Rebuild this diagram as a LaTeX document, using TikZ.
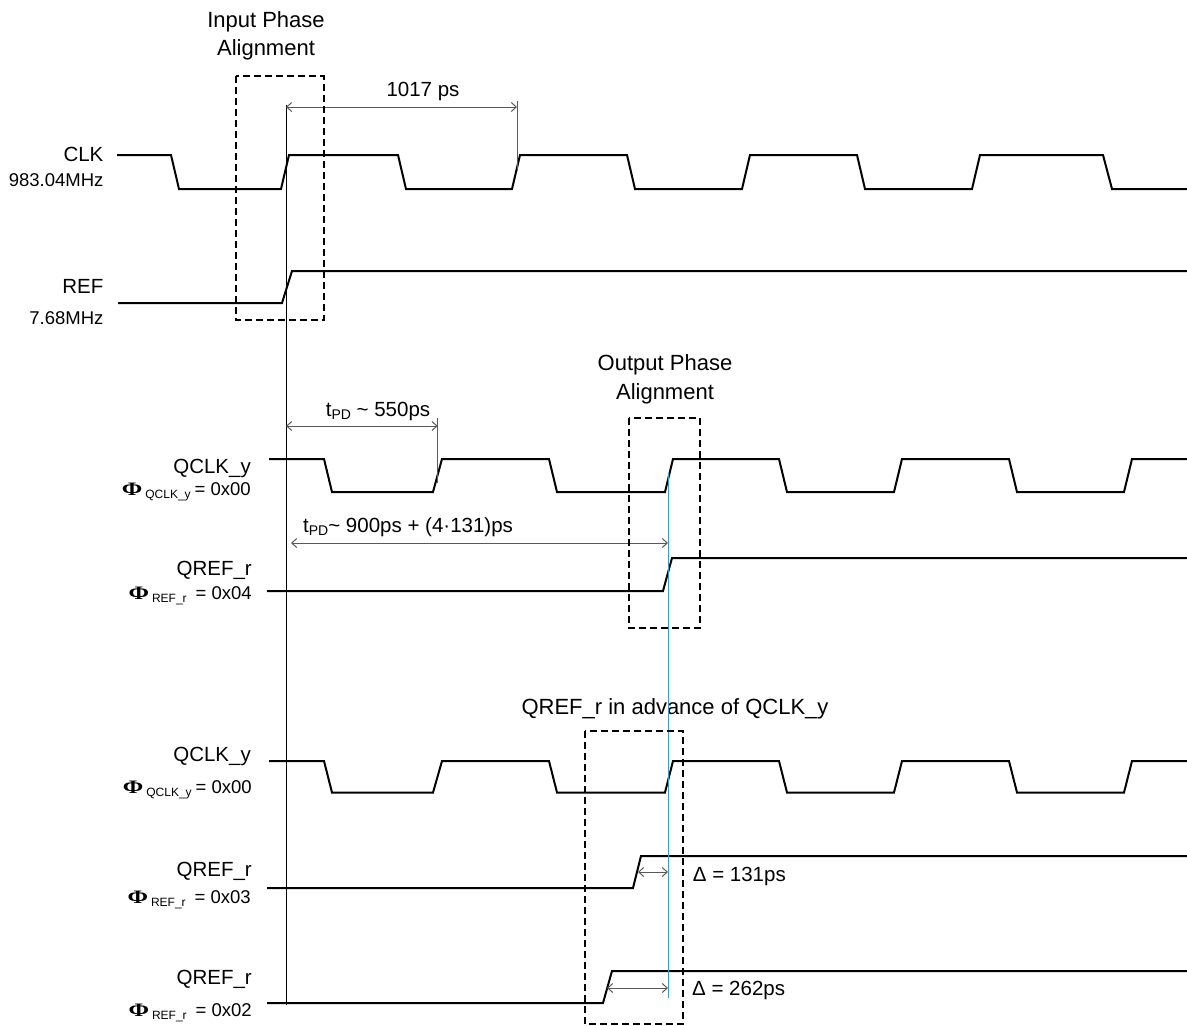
\documentclass[tikz,border=0pt]{standalone}
\usepackage{fontspec}
\usepackage{graphicx}
\setmainfont{Liberation Sans}
\newfontfamily\phifont{Liberation Serif}
\usetikzlibrary{arrows.meta}
\definecolor{cyanline}{RGB}{0,176,240}
\newcommand\sbs[1]{\raisebox{-3pt}{\fontsize{14}{16}\selectfont #1}}
\newcommand\phisym{\scalebox{1.3}[1]{\fontsize{19}{22}\selectfont\phifont\bfseries Φ}}
\newcommand\phisub[1]{\raisebox{-3pt}{\fontsize{12}{14}\selectfont #1}}
\begin{document}
\begin{tikzpicture}[x=1pt,y=-1pt,
  wave/.style={line width=2pt, line join=miter},
  dim/.style={draw=black!65, line width=1pt, {Straight Barb[length=5pt,width=9pt]}-{Straight Barb[length=5pt,width=9pt]}},
  tickline/.style={draw=black!65, line width=1pt},
  dbox/.style={draw, line width=2pt, dash pattern=on 7pt off 4pt},
  lbl/.style={anchor=base east, inner sep=0pt, font=\fontsize{20.5}{24}\selectfont},
  sublbl/.style={anchor=base east, inner sep=0pt, font=\fontsize{18.5}{22}\selectfont},
  hdr/.style={anchor=base, inner sep=0pt, font=\fontsize{22}{28}\selectfont},
  txt/.style={anchor=base, inner sep=0pt, font=\fontsize{20.5}{24}\selectfont},
  txtw/.style={anchor=base west, inner sep=0pt, font=\fontsize{20.5}{24}\selectfont},
]
\useasboundingbox (0,0) rectangle (1187,1026);

% ---- headers
\node[hdr] (hinA) at (266,27.4) {Input Phase};
\node[hdr] (hinB) at (266,55) {Alignment};
\node[hdr] (houtA) at (665,370.8) {Output Phase};
\node[hdr] (houtB) at (665,399) {Alignment};
\node[hdr] (hadv) at (675,714) {QREF\_r in advance of QCLK\_y};

% ---- signal labels
\node[lbl] (lclk) at (103.6,161.4) {CLK};
\node[sublbl] (fclk) at (103.6,186) {983.04MHz};
\node[lbl] (lref) at (103.6,293) {REF};
\node[sublbl] (fref) at (103.6,324) {7.68MHz};

\node[lbl] (lq1) at (251,473) {QCLK\_y};
\node[sublbl] (pq1) at (251,495.5) {\phisym\hspace{3pt}\phisub{QCLK\_y}\hspace{4pt}= 0x00};
\node[lbl] (lr1) at (252,575.7) {QREF\_r};
\node[sublbl] (pr1) at (252,599.3) {\phisym\hspace{3pt}\phisub{REF\_r}\hspace{9pt}= 0x04};

\node[lbl] (lq2) at (251,761.4) {QCLK\_y};
\node[sublbl] (pq2) at (252,793.5) {\phisym\hspace{3pt}\phisub{QCLK\_y}\hspace{4pt}= 0x00};
\node[lbl] (lr2) at (252,876.4) {QREF\_r};
\node[sublbl] (pr2) at (251,903) {\phisym\hspace{3pt}\phisub{REF\_r}\hspace{9pt}= 0x03};
\node[lbl] (lr3) at (252,984) {QREF\_r};
\node[sublbl] (pr3) at (252,1016.5) {\phisym\hspace{3pt}\phisub{REF\_r}\hspace{9pt}= 0x02};

% ---- waveforms
\draw[wave] (117,155) -- (171,155) -- (179,189) -- (281,189) -- (289,155) -- (398,155) -- (406,189) -- (512,189) -- (520,155) -- (627,155) -- (635,189) -- (742,189) -- (750,155) -- (857,155) -- (865,189) -- (972,189) -- (980,155) -- (1103,155) -- (1112,189) -- (1187,189);
\draw[wave] (118,303) -- (282,303) -- (292,271) -- (1187,271);

\draw[wave] (269,459) -- (324,459) -- (332,492) -- (433,492) -- (442,459) -- (549,459) -- (557,492) -- (665,492) -- (673,459) -- (779,459) -- (787,492) -- (894,492) -- (902,459) -- (1009,459) -- (1017,492) -- (1124,492) -- (1132,459) -- (1187,459);
\draw[wave] (267,591) -- (663,591) -- (672,558) -- (1187,558);

\draw[wave] (269,761) -- (324,761) -- (332,792.5) -- (433,792.5) -- (442,761) -- (549,761) -- (557,792.5) -- (665,792.5) -- (673,761) -- (779,761) -- (787,792.5) -- (894,792.5) -- (902,761) -- (1009,761) -- (1017,792.5) -- (1124,792.5) -- (1132,761) -- (1187,761);
\draw[wave] (267,888) -- (633,888) -- (641,856) -- (1187,856);
\draw[wave] (267,1003) -- (603,1003) -- (612,971) -- (1187,971);

% ---- reference lines
\coordinate (vt) at (286,105);
\coordinate (vb) at (286,1005);
\draw[line width=1pt] (vt) -- (vb);
\coordinate (bt) at (668.3,473);
\coordinate (bb) at (668.3,998);
\draw[cyanline, line width=1.2pt] (bt) -- (bb);

% ---- dimension arrows
\coordinate (p1l) at (286,107);
\coordinate (p1r) at (517,107);
\coordinate (k1t) at (517,101);
\coordinate (k1b) at (517,171);
\draw[tickline] (k1t) -- (k1b);
\draw[dim] (p1l) -- (p1r);
\node[txt] (t1017) at (423,96.4) {1017 ps};

\coordinate (p2l) at (286,426);
\coordinate (p2r) at (437.7,426);
\coordinate (k2t) at (437.7,418);
\coordinate (k2b) at (437.7,483);
\draw[tickline] (k2t) -- (k2b);
\draw[dim] (p2l) -- (p2r);
\node[txt] (t550) at (378,416) {t\sbs{PD} \textasciitilde{} 550ps};

\coordinate (p3l) at (291,543);
\coordinate (p3r) at (668,543);
\draw[dim] (p3l) -- (p3r);
\node[txtw] (t900) at (303,532.7) {t\sbs{PD}\textasciitilde{} 900ps + (4·131)ps};

\coordinate (p4l) at (638,872);
\coordinate (p4r) at (668,872);
\draw[dim] (p4l) -- (p4r);
\node[txtw] (d131) at (692.7,881.7) {Δ = 131ps};

\coordinate (p5l) at (607,988);
\coordinate (p5r) at (668,988);
\draw[dim] (p5l) -- (p5r);
\node[txtw] (d262) at (692,995) {Δ = 262ps};

% ---- dashed boxes
\draw[dbox] (236,76) rectangle (323.6,320);
\draw[dbox] (629,418) rectangle (700,628);
\draw[dbox] (585,731) rectangle (683,1024);
\end{tikzpicture}
\end{document}
